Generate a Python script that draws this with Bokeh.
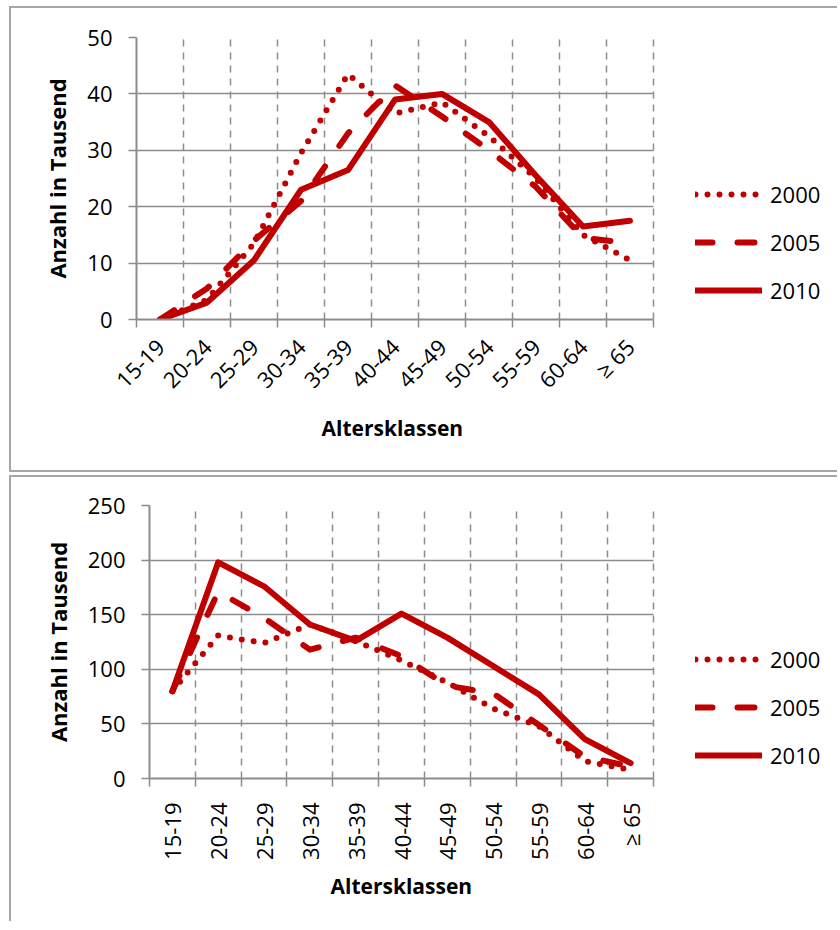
import math
from bokeh.plotting import figure
from bokeh.models import Range1d, FixedTicker, Legend, LegendItem, Spacer, Title
from bokeh.layouts import column, row
from bokeh.embed import file_html
from bokeh.resources import INLINE

categories = ["15-19", "20-24", "25-29", "30-34", "35-39", "40-44",
              "45-49", "50-54", "55-59", "60-64", "≥ 65"]
years = ["2000", "2005", "2010"]

top_2000 = [0, 3.5, 13.5, 29.5, 43.5, 36.5, 38.5, 32.5, 25, 15, 10.5]
top_2005 = [0, 5.5, 14, 21, 33, 41.5, 36, 30, 23.5, 14.5, 13.5]
top_2010 = [0, 3, 10.5, 23, 26.5, 39, 40, 35, 25.5, 16.5, 17.5]

bot_2000 = [80, 131, 124, 141, 126, 108, 88, 64, 48, 16, 8]
bot_2005 = [80, 171, 147, 118, 129, 112, 85, 78, 49, 20, 11]
bot_2010 = [80, 198, 176, 141, 126, 151, 129, 103, 77, 36, 14]

top_yticks = [0, 10, 20, 30, 40, 50]
bot_yticks = [0, 50, 100, 150, 200, 250]

x_title = "Altersklassen"
y_title = "Anzahl in Tausend"

RED = "#C00000"
GRID = "#8c8c8c"
FRAME = "2px solid #a6a6a6"
FONT = "Open Sans"
DASHES = ["0 12", "17 25", "solid"]

n = len(categories)
centers = [i + 0.5 for i in range(n)]
bounds = list(range(n + 1))


def make_panel(series, yticks, label_angle, w, h, mb, chart_px, legend_loc, styles,
               label_standoff, title_offset, title_standoff):
    frame_px = w - mb[0]
    x_end = n * frame_px / chart_px
    p = figure(width=w, height=h, output_backend="svg", toolbar_location=None,
               x_range=Range1d(0, x_end), y_range=Range1d(yticks[0], yticks[-1]),
               min_border_left=mb[0], min_border_right=0,
               min_border_top=mb[1], min_border_bottom=mb[2],
               background_fill_color="white", border_fill_color="white",
               styles=styles)
    p.outline_line_color = None

    renderers = []
    for vals, dash in zip(series, DASHES):
        r = p.line(centers, vals, line_color=RED, line_width=6,
                   line_dash=dash, line_cap="round", line_join="round")
        renderers.append(r)

    p.xgrid.ticker = FixedTicker(ticks=bounds)
    p.xgrid.grid_line_color = GRID
    p.xgrid.grid_line_width = 1.5
    p.xgrid.grid_line_dash = "7 6"
    p.ygrid.ticker = FixedTicker(ticks=yticks)
    p.ygrid.grid_line_color = GRID
    p.ygrid.grid_line_width = 1.5
    p.ygrid.cross_bounds = (0, n)

    xa = p.xaxis[0]
    xa.bounds = (0, n)
    xa.ticker = FixedTicker(ticks=centers, minor_ticks=bounds)
    xa.major_label_overrides = {c: lab for c, lab in zip(centers, categories)}
    xa.major_tick_line_color = None
    xa.major_tick_out = 8
    xa.major_tick_in = 0
    xa.minor_tick_line_color = GRID
    xa.minor_tick_line_width = 1.5
    xa.minor_tick_out = 8
    xa.minor_tick_in = 0
    xa.axis_line_color = GRID
    xa.axis_line_width = 2
    xa.major_label_orientation = label_angle
    xa.major_label_standoff = label_standoff
    xa.major_label_text_font = FONT
    xa.major_label_text_font_size = "22px"
    xa.major_label_text_color = "black"

    xt = Title(text=x_title, align="left", offset=title_offset, standoff=title_standoff,
               text_font=FONT, text_font_style="bold", text_font_size="21px",
               text_color="black")
    p.add_layout(xt, "below")

    ya = p.yaxis[0]
    ya.ticker = FixedTicker(ticks=yticks)
    ya.major_tick_line_color = GRID
    ya.major_tick_line_width = 1.5
    ya.major_tick_out = 8
    ya.major_tick_in = 0
    ya.minor_tick_line_color = None
    ya.axis_line_color = GRID
    ya.axis_line_width = 2
    ya.major_label_standoff = 16
    ya.major_label_text_font = FONT
    ya.major_label_text_font_size = "22px"
    ya.major_label_text_color = "black"
    ya.axis_label = y_title
    ya.axis_label_text_font = FONT
    ya.axis_label_text_font_style = "bold"
    ya.axis_label_text_font_size = "22px"
    ya.axis_label_text_color = "black"
    ya.axis_label_standoff = 12

    legend = Legend(items=[LegendItem(label=y, renderers=[r]) for y, r in zip(years, renderers)],
                    location=legend_loc, orientation="vertical",
                    glyph_width=67, glyph_height=20, label_height=20,
                    spacing=18, padding=0, margin=0, label_standoff=8,
                    border_line_alpha=0, background_fill_alpha=0,
                    label_text_font=FONT, label_text_font_size="22px",
                    label_text_color="black")
    p.add_layout(legend)
    return p


top = make_panel([top_2000, top_2005, top_2010], top_yticks, math.pi / 4,
                 828, 466, (125, 29, 155), 517, (559, 14),
                 {"border-left": FRAME, "border-top": FRAME, "border-bottom": FRAME},
                 15, 185, 8)
bottom = make_panel([bot_2000, bot_2005, bot_2010], bot_yticks, math.pi / 2,
                    828, 446, (138, 28, 145), 504, (546, 8),
                    {"border-left": FRAME, "border-top": FRAME},
                    16, 181, 14)

layout = column(Spacer(height=6),
                row(Spacer(width=9), top),
                Spacer(height=3),
                row(Spacer(width=9), bottom))
open("out.html", "w").write(file_html(layout, INLINE))
